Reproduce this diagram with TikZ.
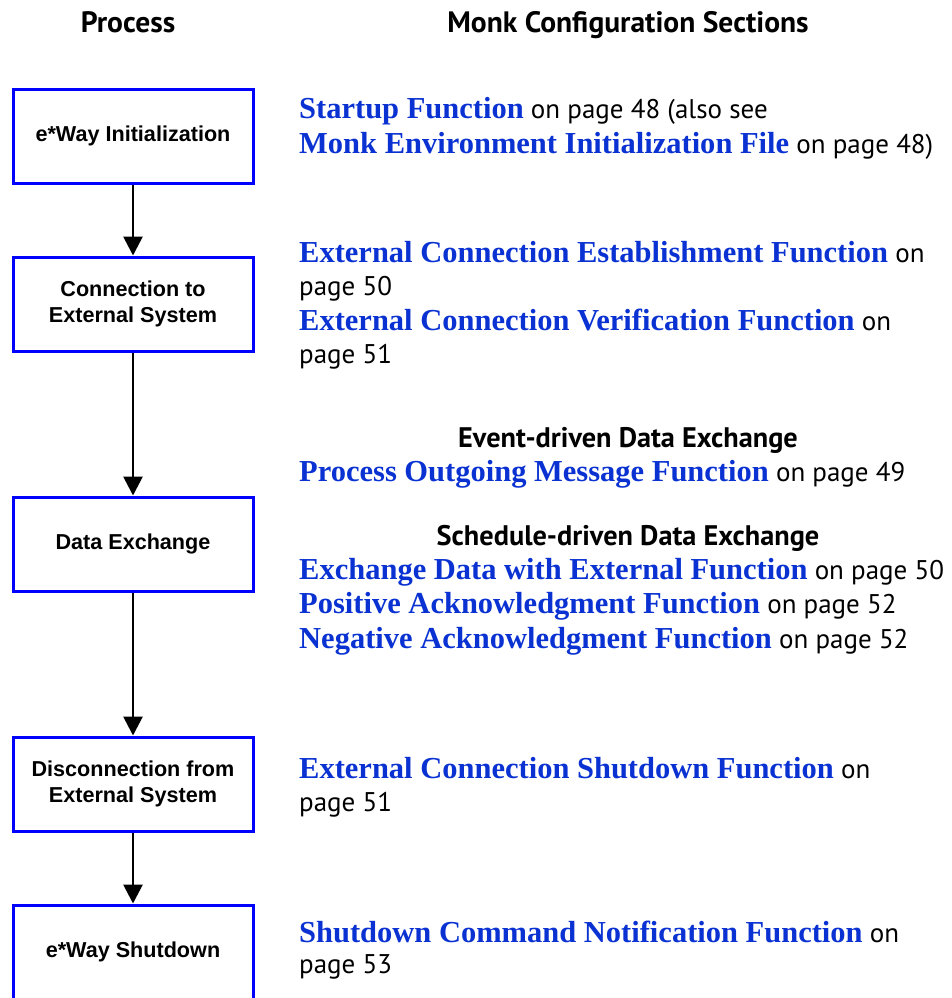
\documentclass[tikz,border=0pt]{standalone}
\usepackage{fontspec}
\usetikzlibrary{arrows.meta}
\newfontfamily\boxfont{Liberation Sans}
\newfontfamily\linkfont{Liberation Serif}
\newfontfamily\plainfont{PT Sans}
\definecolor{boxblue}{RGB}{0,0,255}
\definecolor{linkblue}{RGB}{10,50,210}
\tikzset{
  procbox/.style={draw=boxblue, line width=3pt, minimum width=240pt, minimum height=94pt,
    inner sep=0pt, align=center, font=\boxfont\bfseries\fontsize{21.6}{26}\selectfont},
  flow/.style={line width=2.8pt, -{Triangle[width=19pt,length=19pt]}},
  ref/.style={anchor=base west, inner sep=0pt, font=\plainfont\fontsize{27}{33}\selectfont},
  subhead/.style={anchor=base, inner sep=0pt, font=\plainfont\bfseries\fontsize{28.3}{33}\selectfont},
  head/.style={anchor=base, inner sep=0pt, font=\plainfont\bfseries\fontsize{29.5}{34}\selectfont},
}
\newcommand{\lnk}[1]{{\color{linkblue}\linkfont\bfseries\fontsize{30.5}{36}\selectfont #1}}
\begin{document}
\begin{tikzpicture}[x=1pt,y=-1pt]
\useasboundingbox (0,0) rectangle (952,998);
\clip (0,0) rectangle (952,998);
% headers
\node[head] (hp) at (128,33) {Process};
\node[head] (hm) at (628,33) {Monk Configuration Sections};
% boxes
\node[procbox] (b1) at (133,136) {e*Way Initialization};
\node[procbox] (b2) at (133,304) {Connection to\\External System};
\node[procbox] (b3) at (133,544) {Data Exchange};
\node[procbox] (b4) at (133,784) {Disconnection from\\External System};
\node[procbox] (b5) at (133,952) {e*Way Shutdown};
\draw[flow] (b1) -- (b2);
\draw[flow] (b2) -- (b3);
\draw[flow] (b3) -- (b4);
\draw[flow] (b4) -- (b5);
% references
\node[ref] (r1) at (299,118) {\lnk{Startup Function} on page 48 (also see};
\node[ref] (r2) at (299,153) {\lnk{Monk Environment Initialization File} on page 48)};
\node[ref] (r3) at (299,262) {\lnk{External Connection Establishment Function} on};
\node[ref] (r4) at (299,295) {page 50};
\node[ref] (r5) at (299,330) {\lnk{External Connection Verification Function} on};
\node[ref] (r6) at (299,363) {page 51};
\node[subhead] (s1) at (628,447) {Event-driven Data Exchange};
\node[ref] (r7) at (299,481) {\lnk{Process Outgoing Message Function} on page 49};
\node[subhead] (s2) at (628,545) {Schedule-driven Data Exchange};
\node[ref] (r8) at (299,579) {\lnk{Exchange Data with External Function} on page 50};
\node[ref] (r9) at (299,613) {\lnk{Positive Acknowledgment Function} on page 52};
\node[ref] (r10) at (299,648) {\lnk{Negative Acknowledgment Function} on page 52};
\node[ref] (r11) at (299,778) {\lnk{External Connection Shutdown Function} on};
\node[ref] (r12) at (299,811) {page 51};
\node[ref] (r13) at (299,942) {\lnk{Shutdown Command Notification Function} on};
\node[ref] (r14) at (299,973) {page 53};
\end{tikzpicture}
\end{document}
